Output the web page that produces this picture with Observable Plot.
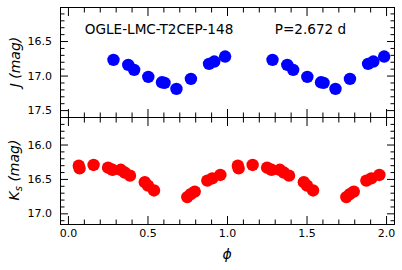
<!DOCTYPE html>
<html><head><meta charset="utf-8">
<script src="https://cdn.jsdelivr.net/npm/d3@7"></script>
<script src="https://cdn.jsdelivr.net/npm/@observablehq/plot@0.6"></script>
<style>
body{margin:0;background:#fff;}
#chart{position:relative;width:402px;height:270px;font-family:"DejaVu Sans",sans-serif;color:#000;background:#fff;overflow:hidden;}
#chart svg{position:absolute;left:0;background:transparent !important;}
.lab{position:absolute;font-style:italic;font-size:14px;white-space:nowrap;line-height:1;}
</style></head><body><div id="chart"></div>
<script>
// J-band light curve (one cycle; plotted at phase and phase+1)
const jPhase = [0.283, 0.376, 0.413, 0.502, 0.588, 0.604, 0.679, 0.770, 0.884, 0.917, 0.985];
const jMag   = [16.765, 16.838, 16.910, 17.012, 17.090, 17.099, 17.186, 17.041, 16.823, 16.790, 16.717];
// Ks-band light curve
const ksPhase = [0.065, 0.070, 0.158, 0.249, 0.277, 0.329, 0.354, 0.387, 0.480, 0.500, 0.538, 0.747, 0.769, 0.794, 0.873, 0.904, 0.955];
const ksMag   = [16.300, 16.340, 16.290, 16.330, 16.360, 16.360, 16.400, 16.445, 16.540, 16.590, 16.660, 16.757, 16.713, 16.677, 16.517, 16.484, 16.435];

const xMajor = [0.0, 0.5, 1.0, 1.5, 2.0];
const xMinor = d3.range(1, 21).map(i => i / 10).filter(v => !xMajor.some(m => Math.abs(m - v) < 1e-9));
const jMajor = [16.5, 17.0, 17.5];
const jMinor = [16.1, 16.2, 16.3, 16.4, 16.6, 16.7, 16.8, 16.9, 17.1, 17.2, 17.3, 17.4, 17.6];
const ksMajor = [16.0, 16.5, 17.0];
const ksMinor = [15.7, 15.8, 15.9, 16.1, 16.2, 16.3, 16.4, 16.6, 16.7, 16.8, 16.9, 17.1];
const starName = "OGLE-LMC-T2CEP-148";
const periodLabel = "P=2.672 d";

const fold = (ph, mg) => ph.flatMap((p, i) => [{phi: p, mag: mg[i]}, {phi: p + 1, mag: mg[i]}]);
const fmt = d3.format(".1f");
const W = 402, ML = 60, MR = 8;
const xDomain = [-0.05, 2.05];

function ticks(yMaj, yMin) {
  return [
    Plot.axisY({ticks: yMaj, anchor: "left", tickSize: -8, fill: "none"}),
    Plot.axisY({ticks: yMin, anchor: "left", tickSize: -4.5, fill: "none"}),
    Plot.axisY({ticks: yMaj, anchor: "right", tickSize: -8, fill: "none"}),
    Plot.axisY({ticks: yMin, anchor: "right", tickSize: -4.5, fill: "none"}),
    Plot.axisY({ticks: yMaj, anchor: "left", tickSize: 0, tickPadding: 8.5, tickFormat: fmt, label: null}),
    Plot.axisX({ticks: xMajor, anchor: "top", tickSize: -8, fill: "none"}),
    Plot.axisX({ticks: xMinor, anchor: "top", tickSize: -4.5, fill: "none"}),
    Plot.axisX({ticks: xMajor, anchor: "bottom", tickSize: -8, fill: "none"}),
    Plot.axisX({ticks: xMinor, anchor: "bottom", tickSize: -4.5, fill: "none"}),
    Plot.frame({stroke: "#000", strokeWidth: 1})
  ];
}

const topPlot = Plot.plot({
  width: W, height: 118,
  marginLeft: ML, marginRight: MR, marginTop: 7, marginBottom: 1,
  style: {fontFamily: "DejaVu Sans", fontSize: "11px", background: "transparent", color: "#000"},
  x: {domain: xDomain},
  y: {domain: [16.007, 17.6], reverse: true},
  marks: [
    Plot.dot(fold(jPhase, jMag), {x: "phi", y: "mag", r: 6.2, fill: "#0000ff", stroke: null}),
    Plot.text([{phi: 0.1025, mag: 16.333, t: starName}, {phi: 1.297, mag: 16.333, t: periodLabel}],
      {x: "phi", y: "mag", text: "t", textAnchor: "start", fontSize: 13.6, fill: "#000"}),
    ...ticks(jMajor, jMinor)
  ]
});

const bottomPlot = Plot.plot({
  width: W, height: 154,
  marginLeft: ML, marginRight: MR, marginTop: 1, marginBottom: 46,
  style: {fontFamily: "DejaVu Sans", fontSize: "11px", background: "transparent", color: "#000"},
  x: {domain: xDomain},
  y: {domain: [15.6, 17.155], reverse: true},
  marks: [
    Plot.dot(fold(ksPhase, ksMag), {x: "phi", y: "mag", r: 6.2, fill: "#ff0000", stroke: null}),
    ...ticks(ksMajor, ksMinor),
    Plot.axisX({ticks: xMajor, anchor: "bottom", tickSize: 0, tickPadding: 4.5, tickFormat: fmt, label: null})
  ]
});

const chart = document.getElementById("chart");
topPlot.style.top = "0px";
bottomPlot.style.top = "116px";
chart.appendChild(topPlot);
chart.appendChild(bottomPlot);

function addLabel(html, x, y, rotate) {
  const d = document.createElement("div");
  d.className = "lab";
  d.innerHTML = html;
  d.style.left = x + "px";
  d.style.top = y + "px";
  d.style.transform = "translate(-50%,-50%)" + (rotate ? " rotate(-90deg)" : "");
  chart.appendChild(d);
}
addLabel("J (mag)", 15, 62, true);
addLabel("K<sub style=\"font-size:10px;vertical-align:-3px\">s</sub> (mag)", 15, 170, true);
addLabel("\u03d5", 227, 254, false);
</script></body></html>
